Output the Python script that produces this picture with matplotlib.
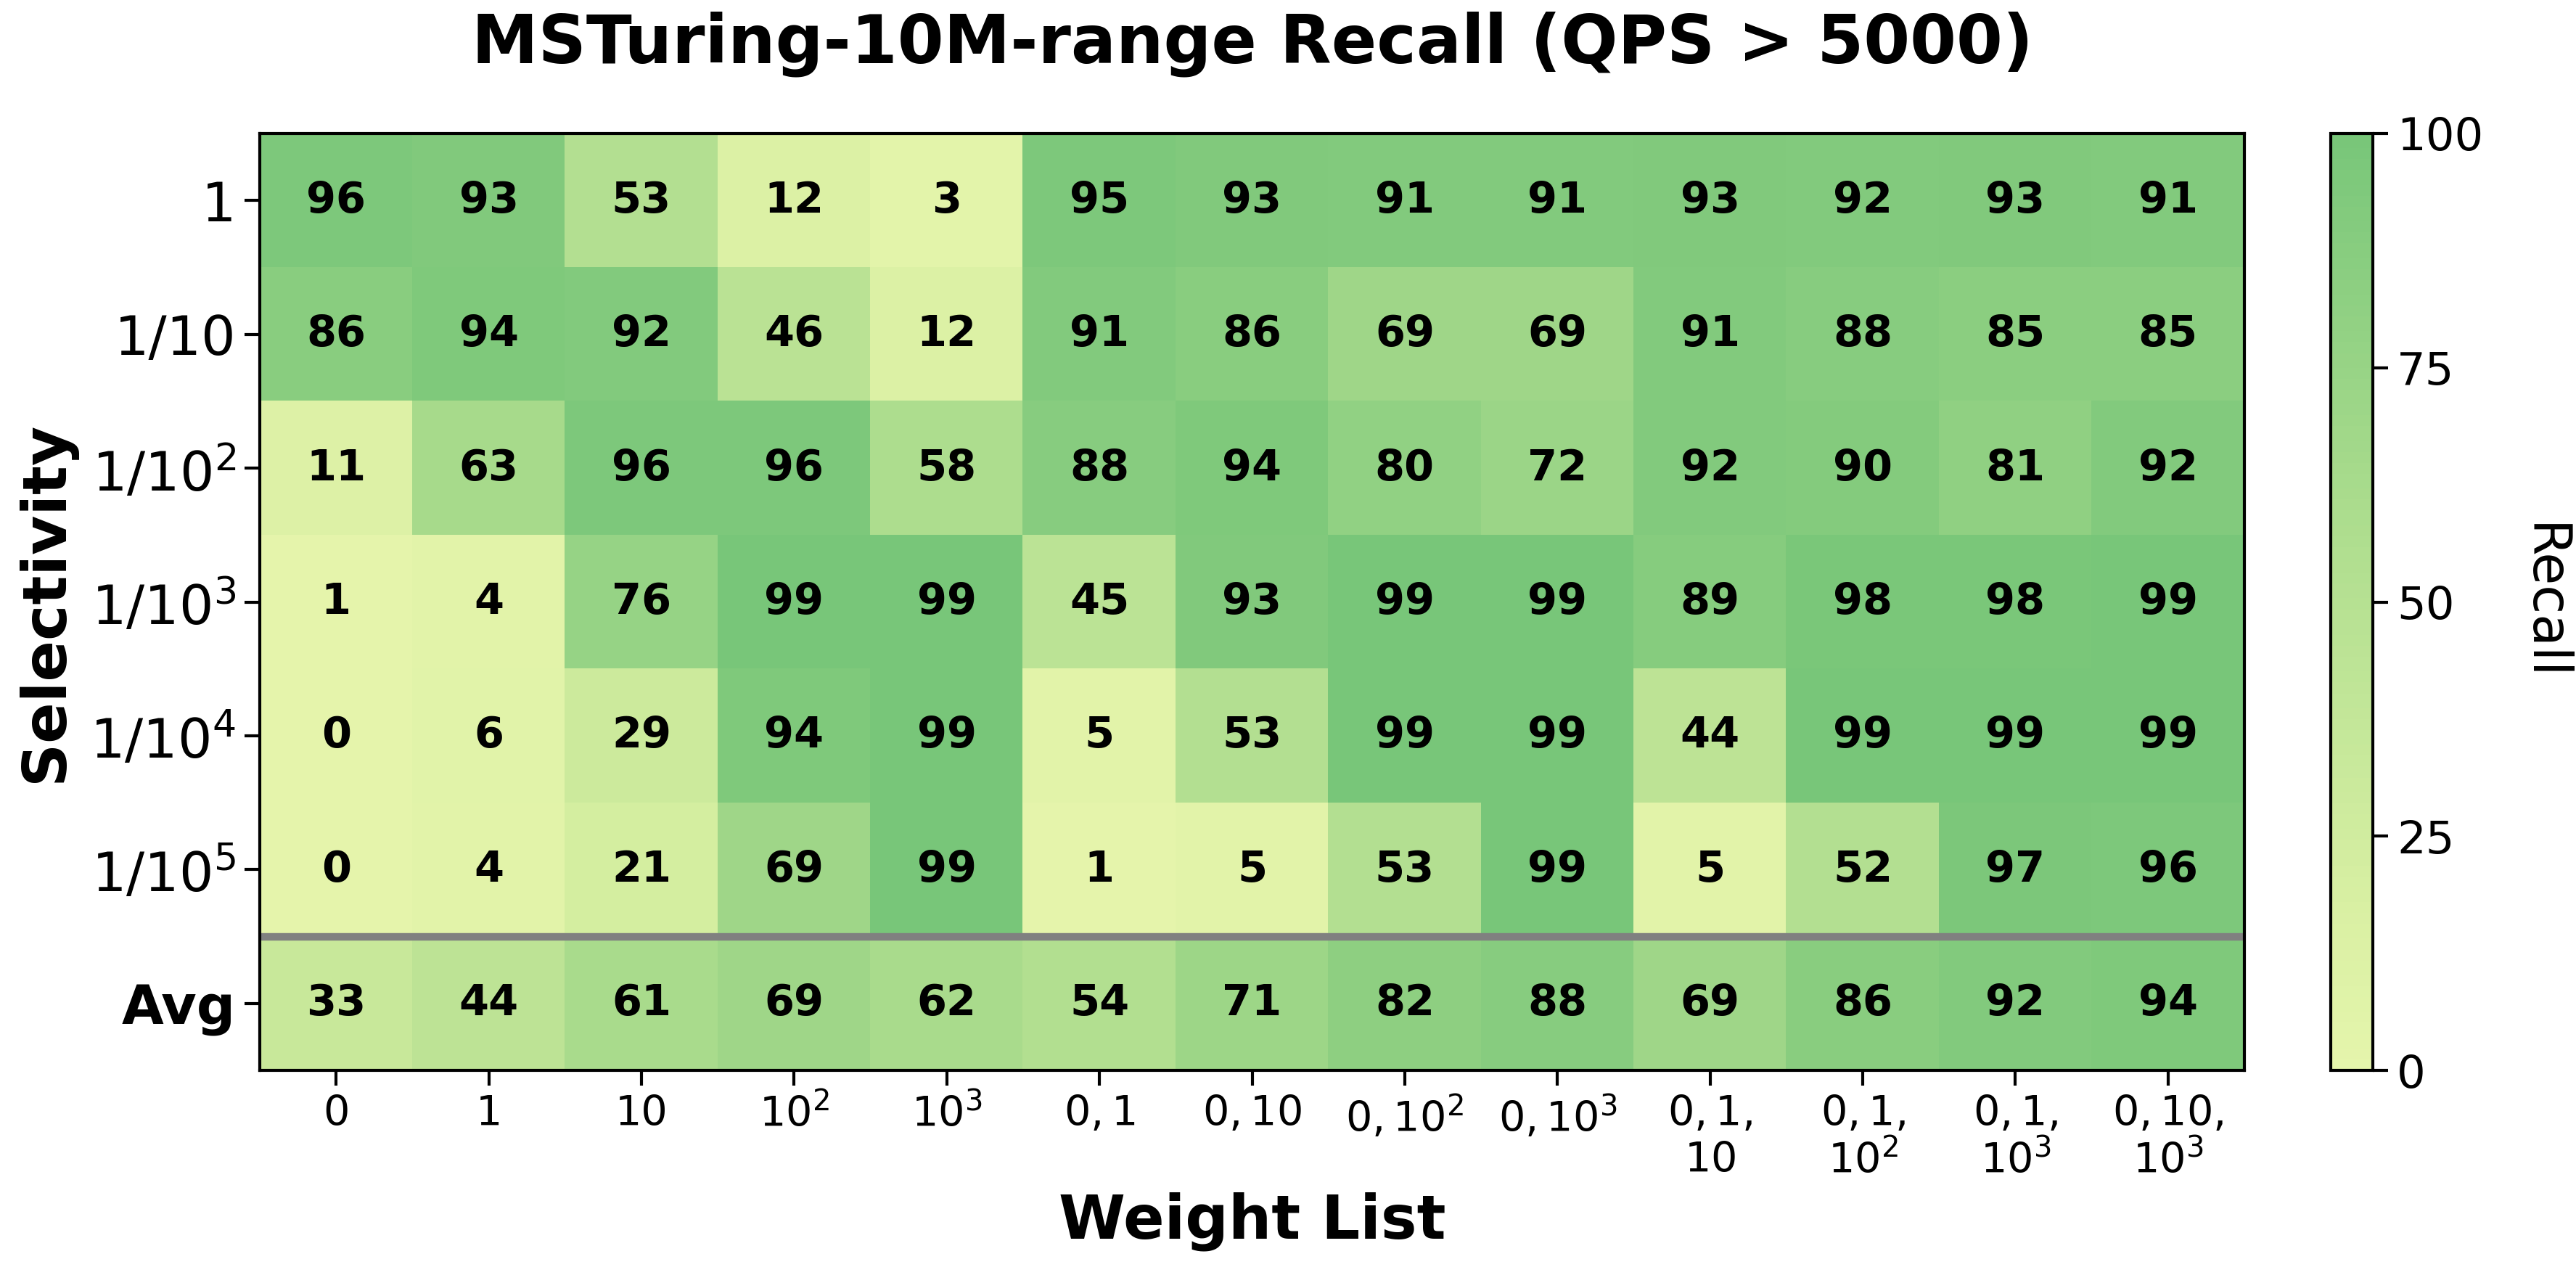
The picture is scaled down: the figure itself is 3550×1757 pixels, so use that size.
import numpy as np
import matplotlib
matplotlib.use("Agg")
import matplotlib.pyplot as plt
from matplotlib.colors import LinearSegmentedColormap

row_labels = ["1", "1/10", "$1/10^2$", "$1/10^3$", "$1/10^4$", "$1/10^5$", "Avg"]
col_labels = ["0", "1", "10", "$10^2$", "$10^3$", "$0, 1$", "$0, 10$", "$0, 10^2$",
              "$0, 10^3$", "$0, 1,$\n$10$", "$0, 1,$\n$10^2$", "$0, 1,$\n$10^3$", "$0, 10,$\n$10^3$"]

sel_1 = [96, 93, 53, 12, 3, 95, 93, 91, 91, 93, 92, 93, 91]
sel_10 = [86, 94, 92, 46, 12, 91, 86, 69, 69, 91, 88, 85, 85]
sel_100 = [11, 63, 96, 96, 58, 88, 94, 80, 72, 92, 90, 81, 92]
sel_1k = [1, 4, 76, 99, 99, 45, 93, 99, 99, 89, 98, 98, 99]
sel_10k = [0, 6, 29, 94, 99, 5, 53, 99, 99, 44, 99, 99, 99]
sel_100k = [0, 4, 21, 69, 99, 1, 5, 53, 99, 5, 52, 97, 96]
avg = [33, 44, 61, 69, 62, 54, 71, 82, 88, 69, 86, 92, 94]

data = np.array([sel_1, sel_10, sel_100, sel_1k, sel_10k, sel_100k, avg], dtype=float)

base = plt.get_cmap("YlGn")
cmap = LinearSegmentedColormap.from_list("trunc", base(np.linspace(0.2, 0.5, 256)))

W, H = 3550, 1757
fig = plt.figure(figsize=(W / 250, H / 250), dpi=250)
ax = fig.add_axes([358 / W, 1 - 1475 / H, (3093 - 358) / W, (1475 - 184) / H])
cax = fig.add_axes([3212 / W, 1 - 1475 / H, (3270 - 3212) / W, (1475 - 184) / H])

im = ax.imshow(data, cmap=cmap, vmin=0, vmax=100, aspect="auto")

for i in range(data.shape[0]):
    for j in range(data.shape[1]):
        ax.text(j, i, f"{int(data[i, j])}", ha="center", va="center",
                fontsize=17, fontweight="bold", color="black")

ax.axhline(5.5, color="gray", lw=3)

ax.set_xticks(range(len(col_labels)))
ax.set_xticklabels(col_labels, fontsize=16.5, va="top")
ax.set_yticks(range(len(row_labels)))
ax.set_yticklabels(row_labels, fontsize=21.5)
ax.get_yticklabels()[-1].set_fontweight("bold")
ax.get_yticklabels()[-1].set_fontsize(21.5)
ax.tick_params(axis="both", length=6, width=1.2)
for s in ax.spines.values():
    s.set_linewidth(1.2)

ax.set_xlabel("Weight List", fontsize=24, fontweight="bold", labelpad=4)
ax.set_ylabel("Selectivity", fontsize=24, fontweight="bold", labelpad=6)
ax.set_title("MSTuring-10M-range Recall (QPS > 5000)", fontsize=26.5, fontweight="bold", pad=28)

cb = fig.colorbar(im, cax=cax)
cb.set_ticks([0, 25, 50, 75, 100])
cb.ax.tick_params(labelsize=18, length=6, width=1.2)
cb.set_label("Recall", fontsize=21, rotation=270, labelpad=34)
cb.outline.set_linewidth(1.2)

fig.savefig("out.png", dpi=250)
